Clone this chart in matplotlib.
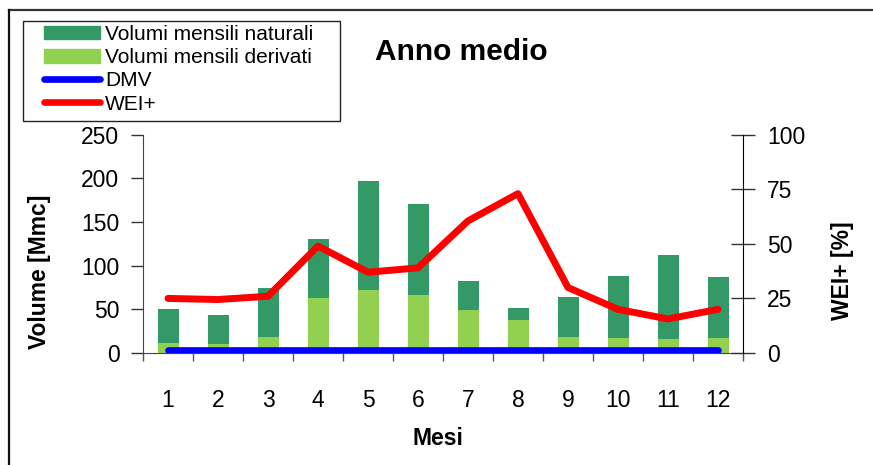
import matplotlib
matplotlib.use("Agg")
import matplotlib.pyplot as plt
from matplotlib.patches import Rectangle
from matplotlib.lines import Line2D
import numpy as np

plt.rcParams['font.family'] = ['Liberation Sans', 'DejaVu Sans']

months = ['1', '2', '3', '4', '5', '6', '7', '8', '9', '10', '11', '12']
vol_naturali = [50, 43, 74, 130, 197, 171, 82, 52, 64, 88, 112, 87]
vol_derivati = [12, 10, 18, 63, 72, 66, 49, 38, 18, 17, 16, 17]
dmv = [3, 3, 3, 3, 3, 3, 3, 3, 3, 3, 3, 3]
wei = [25, 24.5, 26, 49, 37, 39, 60.5, 73, 30, 20, 15.6, 20]

W, H = 873, 465
fig = plt.figure(figsize=(W / 100, H / 100), dpi=100)
fig.patch.set_facecolor('white')

ax = fig.add_axes([143 / W, 1 - 353 / H, 600 / W, (353 - 134.7) / H])
ax2 = ax.twinx()

x = np.arange(1, len(months) + 1)
dark = '#339966'
light = '#92D050'
ax.bar(x, vol_naturali, width=0.42, color=dark, zorder=2)
ax.bar(x, vol_derivati, width=0.42, color=light, zorder=2)
ax.plot(x, dmv, color='#0000FF', lw=4.8, solid_capstyle='round', zorder=4)
ax2.plot(x, wei, color='#FF0000', lw=5.0, solid_capstyle='round', solid_joinstyle='round', zorder=4)

ax.set_xlim(0.5, 12.5)
ax.set_ylim(0, 250)
ax2.set_ylim(0, 100)
ax.set_yticks([0, 50, 100, 150, 200, 250])
ax2.set_yticks([0, 25, 50, 75, 100])

# x ticks at category boundaries, labels at centers
ax.set_xticks(np.arange(0.5, 13, 1))
ax.set_xticklabels([])
ax.set_xticks(x, minor=True)
ax.set_xticklabels(months, minor=True)
ax.tick_params(axis='x', which='major', direction='out', length=6, width=1, color='#555555')
ax.tick_params(axis='x', which='minor', length=0, pad=26, labelsize=16.5)
ax.tick_params(axis='y', direction='out', length=9, width=1, pad=8, labelsize=16.5, color='#333333')
ax2.tick_params(axis='y', direction='inout', length=17, width=1, pad=9, labelsize=16.5, color='#333333')

for a in (ax, ax2):
    a.spines['top'].set_visible(False)
    a.set_facecolor('none')
ax.spines['right'].set_visible(False)
ax2.spines['left'].set_visible(False)
ax2.spines['bottom'].set_visible(False)
ax.spines['left'].set_color('#444444')
ax.spines['bottom'].set_color('#444444')
ax2.spines['right'].set_color('black')

# Texts
fig.text(461 / W, 1 - 52 / H, 'Anno medio', ha='center', va='center', fontsize=21.5, fontweight='bold')
fig.text(438 / W, 1 - 438 / H, 'Mesi', ha='center', va='center', fontsize=16.5, fontweight='bold')
fig.text(40 / W, 1 - 272 / H, 'Volume [Mmc]', ha='center', va='center', rotation=90, fontsize=16.5, fontweight='bold')
fig.text(843 / W, 1 - 271 / H, 'WEI+ [%]', ha='center', va='center', rotation=90, fontsize=16.5, fontweight='bold')

# Legend
handles = [Rectangle((0, 0), 1, 1, color=dark),
           Rectangle((0, 0), 1, 1, color=light),
           Line2D([], [], color='#0000FF', lw=4.8, solid_capstyle='round'),
           Line2D([], [], color='#FF0000', lw=4.8, solid_capstyle='round')]
labels = ['Volumi mensili naturali', 'Volumi mensili derivati', 'DMV', 'WEI+']
fig.legend(handles, labels, loc='upper left', bbox_to_anchor=(44 / W, 1 - 25 / H),
           frameon=False, borderpad=0, borderaxespad=0, fontsize=15,
           handlelength=2.7, handleheight=0.63, handletextpad=0.22, labelspacing=0.2)
fig.add_artist(Rectangle((23 / W, 1 - 121 / H), (340 - 23) / W, 100 / H,
                         transform=fig.transFigure, fill=False, edgecolor='#222222', lw=1))

# Outer border (top and left)
fig.add_artist(Line2D([9 / W, 1], [1 - 10 / H, 1 - 10 / H], transform=fig.transFigure, color='#333333', lw=1.6))
fig.add_artist(Line2D([9 / W, 9 / W], [0, 1 - 10 / H], transform=fig.transFigure, color='#111111', lw=1.6))

fig.savefig('out.png', dpi=100)
